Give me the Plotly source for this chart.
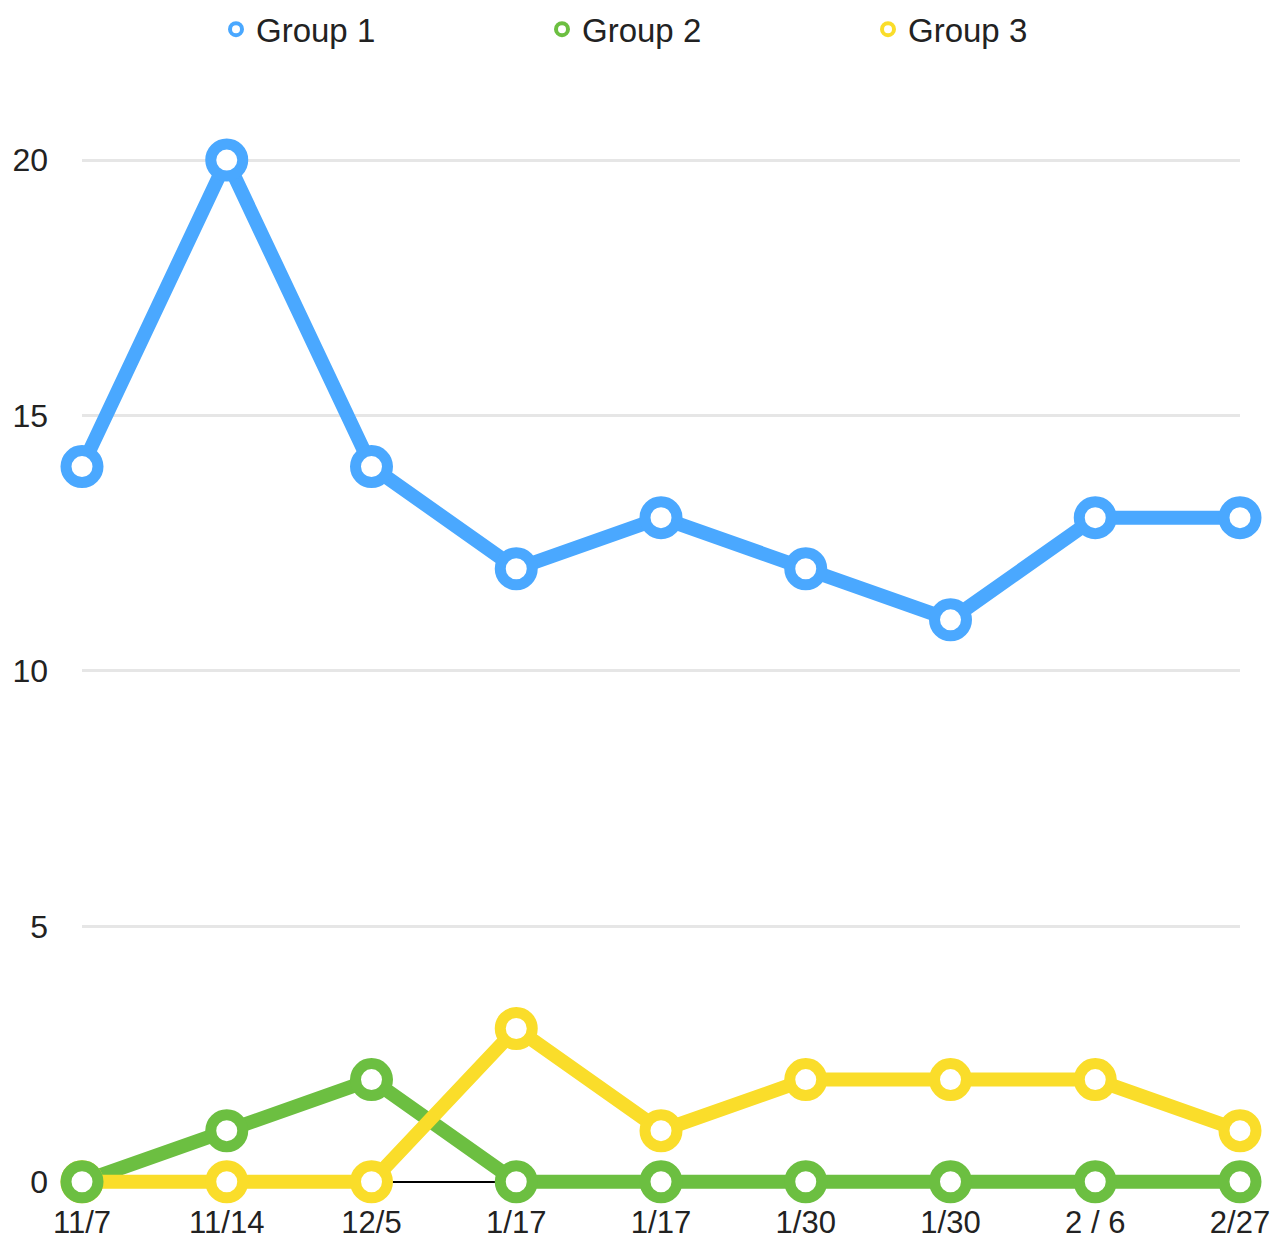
import plotly.graph_objects as go

dates = ["11/7", "11/14", "12/5", "1/17", "1/17", "1/30", "1/30", "2 / 6", "2/27"]
group1 = [14, 20, 14, 12, 13, 12, 11, 13, 13]
group2 = [0, 1, 2, 0, 0, 0, 0, 0, 0]
group3 = [0, 0, 0, 3, 1, 2, 2, 2, 1]
series_names = ["Group 1", "Group 2", "Group 3"]
colors = ["#4AA8FF", "#6CBF41", "#FADD2A"]
y_ticks = [0, 5, 10, 15, 20]

xpos = list(range(len(dates)))
values = [group1, group2, group3]
FONT = "Liberation Sans, Arial, sans-serif"

fig = go.Figure()
# lines
for name, vals, col in zip(series_names, values, colors):
    fig.add_trace(go.Scatter(x=xpos, y=vals, mode="lines", line=dict(color=col, width=14),
                             showlegend=False, cliponaxis=False, hoverinfo="skip"))
# markers (green on top of yellow)
for i in [0, 2, 1]:
    fig.add_trace(go.Scatter(x=xpos, y=values[i], mode="markers", name=series_names[i],
                             marker=dict(symbol="circle", size=32, color="white",
                                         line=dict(color=colors[i], width=11)),
                             showlegend=False, cliponaxis=False))
# legend entries
for name, col in zip(series_names, colors):
    fig.add_trace(go.Scatter(x=[None], y=[None], mode="markers", name=name,
                             marker=dict(symbol="circle", size=12, color="white",
                                         line=dict(color=col, width=4))))

fig.update_layout(
    width=1281, height=1245,
    margin=dict(l=74, r=49, t=149, b=61, autoexpand=False),
    plot_bgcolor="white", paper_bgcolor="white",
    font=dict(family=FONT, size=32, color="#222222"),
    legend=dict(orientation="h", x=0.538, xanchor="center", y=1.1505, yanchor="top",
                entrywidth=281, font=dict(size=33, family=FONT), itemsizing="trace"),
    xaxis=dict(range=[0, len(dates) - 1], tickmode="array", tickvals=xpos, ticktext=dates,
               showgrid=False, zeroline=False, showline=False,
               ticks="", ticklabelstandoff=9, automargin=False,
               tickfont=dict(size=31, family=FONT)),
    yaxis=dict(range=[-0.2, 20.06], tickmode="array", tickvals=y_ticks, showgrid=True,
               gridcolor="#e6e6e6", gridwidth=3, zeroline=True, zerolinecolor="black",
               zerolinewidth=2, showline=False, ticks="",
               ticklabelstandoff=33, automargin=False, tickfont=dict(size=32, family=FONT)),
)

fig.write_html("out.html")
